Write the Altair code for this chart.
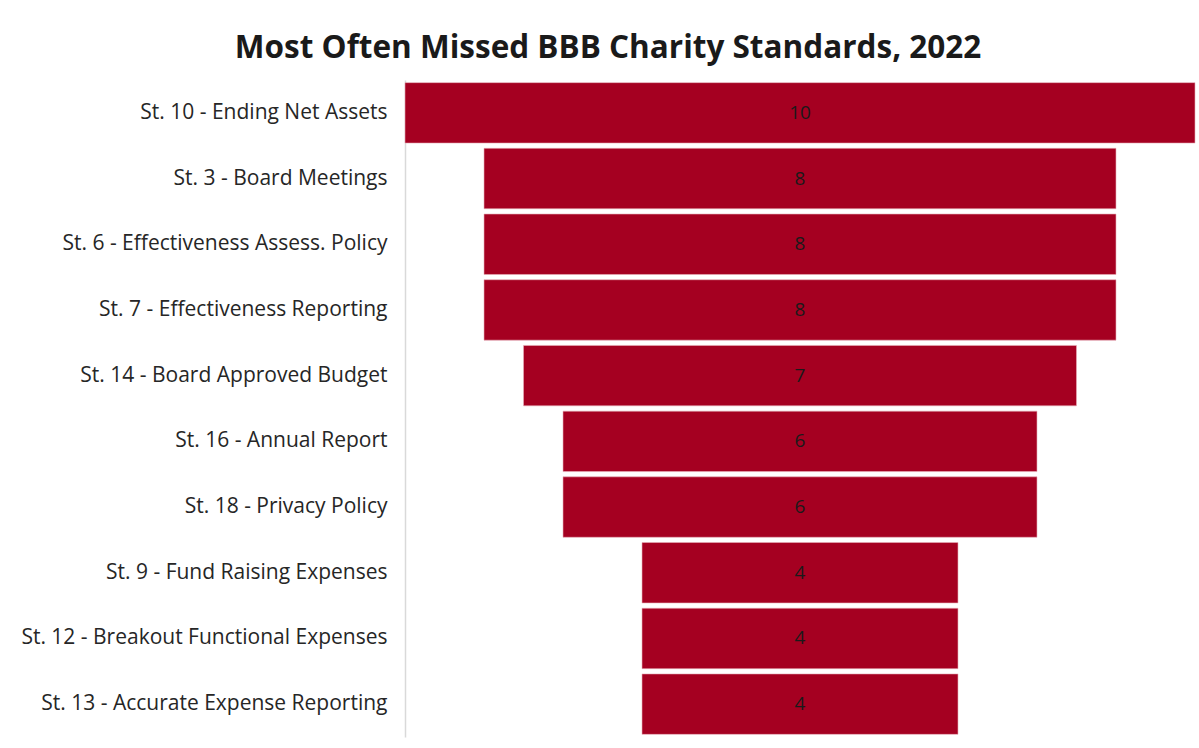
import altair as alt
import pandas as pd

categories = [
    "St. 10 - Ending Net Assets",
    "St. 3 - Board Meetings",
    "St. 6 - Effectiveness Assess. Policy",
    "St. 7 - Effectiveness Reporting",
    "St. 14 - Board Approved Budget",
    "St. 16 - Annual Report",
    "St. 18 - Privacy Policy",
    "St. 9 - Fund Raising Expenses",
    "St. 12 - Breakout Functional Expenses",
    "St. 13 - Accurate Expense Reporting",
]
values = [10, 8, 8, 8, 7, 6, 6, 4, 4, 4]

df = pd.DataFrame({"standard": categories, "count": values})

base = alt.Chart(df).transform_calculate(
    start="(10 - datum.count) / 2",
    end="(10 + datum.count) / 2",
    mid="5",
)

y_enc = alt.Y(
    "standard:N",
    sort=categories,
    title=None,
    scale=alt.Scale(paddingInner=0.08, paddingOuter=0.04),
    axis=alt.Axis(
        labelFont="Open Sans",
        labelFontSize=21,
        labelColor="#262626",
        labelPadding=18,
        ticks=False,
        domainColor="#d9d9d9",
        domainWidth=1.5,
        labelLimit=500,
    ),
)

bars = base.mark_bar(color="#A50021", stroke="#e8b0ba", strokeWidth=0.6).encode(
    y=y_enc,
    x=alt.X("start:Q", scale=alt.Scale(domain=[0, 10], nice=False), axis=None),
    x2="end:Q",
)

labels = base.mark_text(font="Open Sans", fontSize=19, color="#1a1a1a").encode(
    y=alt.Y("standard:N", sort=categories),
    x=alt.X("mid:Q"),
    text="count:Q",
)

chart = (
    (bars + labels)
    .properties(
        width=790,
        height=657,
        padding={"left": 20, "top": 32, "right": 3, "bottom": 4},
        title=alt.TitleParams(
            "Most Often Missed BBB Charity Standards, 2022",
            font="Open Sans",
            fontSize=31.5,
            fontWeight="bold",
            color="#1a1a1a",
            anchor="middle",
            frame="bounds",
            offset=16,
        ),
        background="white",
    )
    .configure_view(stroke=None)
    .configure_axis(grid=False)
)

chart.save("out.html", embed_options={"renderer": "svg", "actions": False})
